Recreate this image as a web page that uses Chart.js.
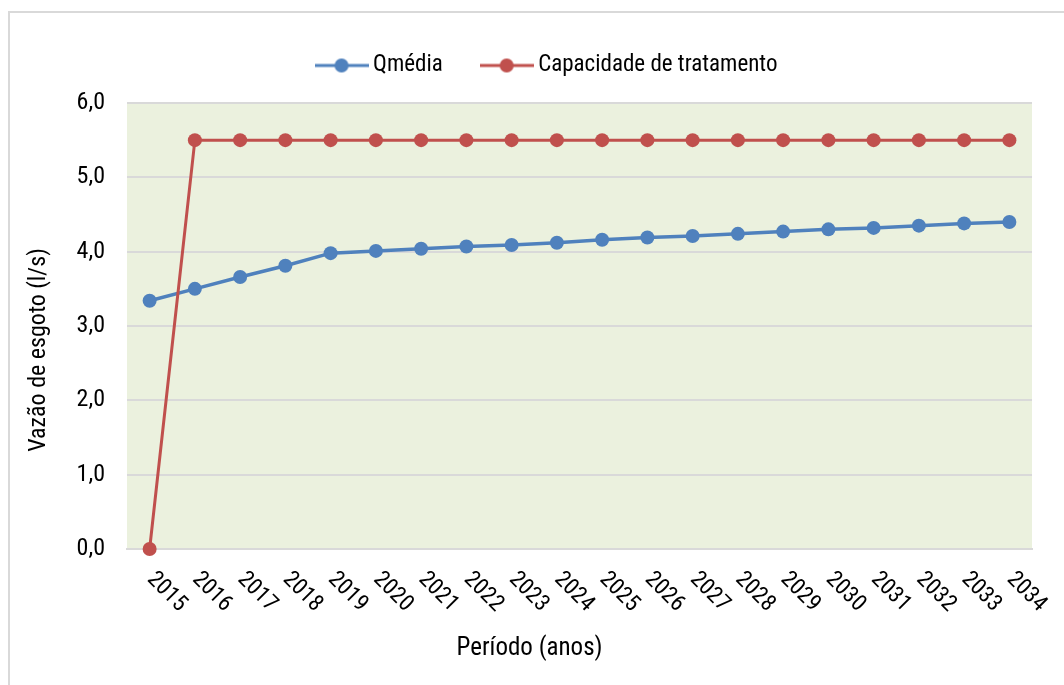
<!DOCTYPE html>
<html>
<head>
<meta charset="utf-8">
<script src="https://cdn.jsdelivr.net/npm/chart.js@4/dist/chart.umd.min.js"></script>
<style>
  html, body { margin: 0; padding: 0; background: #fff; overflow: hidden; }
  #wrap { position: relative; width: 1064px; height: 685px; }
  #frame { position: absolute; left: 8px; top: 11px; width: 1100px; height: 700px; border: 2px solid #d9d9d9; box-sizing: border-box; pointer-events: none; }
  canvas { position: absolute; left: 0; top: 0; }
</style>
</head>
<body>
<div id="wrap">
  <canvas id="grafico" width="1064" height="685"></canvas>
  <div id="frame"></div>
</div>
<script>
const anos = ['2015', '2016', '2017', '2018', '2019', '2020', '2021', '2022', '2023', '2024',
              '2025', '2026', '2027', '2028', '2029', '2030', '2031', '2032', '2033', '2034'];
const qMedia = [3.34, 3.50, 3.66, 3.81, 3.98, 4.01, 4.04, 4.07, 4.09, 4.12,
                4.16, 4.19, 4.21, 4.24, 4.27, 4.30, 4.32, 4.35, 4.38, 4.40];
const capacidade = [0.0, 5.5, 5.5, 5.5, 5.5, 5.5, 5.5, 5.5, 5.5, 5.5,
                    5.5, 5.5, 5.5, 5.5, 5.5, 5.5, 5.5, 5.5, 5.5, 5.5];
const yTicks = [0, 1, 2, 3, 4, 5, 6];
const tituloY = 'Vazão de esgoto (l/s)';

const FONTE = "'Liberation Sans Narrow', 'Arial Narrow', 'Roboto Condensed', sans-serif";
const AZUL = '#4f81bd';
const VERMELHO = '#c0504d';

function marcadorLegenda(cor) {
    const c = document.createElement('canvas');
    c.width = 54;
    c.height = 16;
    const g = c.getContext('2d');
    g.strokeStyle = cor;
    g.lineWidth = 3;
    g.beginPath();
    g.moveTo(0, 8);
    g.lineTo(54, 8);
    g.stroke();
    g.fillStyle = cor;
    g.beginPath();
    g.arc(27, 8, 7, 0, Math.PI * 2);
    g.fill();
    return c;
}

// fundo verde só na área do gráfico
const fundoArea = {
    id: 'fundoArea',
    afterLayout(chart) {
        // legenda um pouco à direita, como no original
        chart.legend.left += 20;
        chart.legend.right += 20;
    },
    beforeDraw(chart) {
        const a = chart.chartArea;
        const ctx = chart.ctx;
        ctx.save();
        ctx.fillStyle = '#ebf1de';
        ctx.fillRect(a.left, a.top, a.right - a.left, a.bottom - a.top);
        ctx.restore();
    }
};

// rótulos dos anos inclinados para baixo (45° no sentido horário) e título do eixo y
const rotulosAnos = {
    id: 'rotulosAnos',
    afterDraw(chart) {
        const x = chart.scales.x;
        const y = chart.scales.y;
        const ctx = chart.ctx;
        ctx.save();
        ctx.font = '23px ' + FONTE;
        ctx.fillStyle = '#000';
        ctx.textAlign = 'left';
        ctx.textBaseline = 'middle';
        anos.forEach((ano, i) => {
            const px = x.getPixelForValue(i);
            ctx.save();
            ctx.translate(px + 1, x.top + 27);
            ctx.rotate(Math.PI / 4);
            ctx.fillText(ano, 0, 0);
            ctx.restore();
        });

        ctx.font = '24px ' + FONTE;
        ctx.textAlign = 'center';
        ctx.translate(39, (y.top + y.bottom) / 2 + 24);
        ctx.rotate(-Math.PI / 2);
        ctx.fillText(tituloY, 0, 0);
        ctx.restore();
    }
};

new Chart(document.getElementById('grafico').getContext('2d'), {
    type: 'line',
    data: {
        labels: anos,
        datasets: [{
            label: 'Qmédia',
            data: qMedia,
            borderColor: AZUL,
            backgroundColor: AZUL,
            borderWidth: 3.5,
            pointRadius: 7,
            pointHoverRadius: 7,
            pointBorderWidth: 0,
            tension: 0,
            order: 1,
            clip: false,
        }, {
            label: 'Capacidade de tratamento',
            data: capacidade,
            borderColor: VERMELHO,
            backgroundColor: VERMELHO,
            borderWidth: 3,
            pointRadius: 7,
            pointHoverRadius: 7,
            pointBorderWidth: 0,
            tension: 0,
            order: 0,
            clip: false,
        }],
    },
    options: {
        responsive: false,
        animation: false,
        layout: {
            padding: { top: 10, left: 27, right: 32, bottom: 0 },
        },
        scales: {
            x: {
                offset: true,
                grid: { display: false, drawTicks: false },
                border: { display: true, color: '#d9d9d9', width: 2 },
                ticks: { display: false },
                afterFit(scale) { scale.height = 85; },
            },
            y: {
                min: 0,
                max: 6,
                afterBuildTicks(scale) { scale.ticks = yTicks.map(v => ({ value: v })); },
                grid: { color: '#d9d9d9', lineWidth: 2, drawTicks: false },
                border: { display: false },
                ticks: {
                    padding: 22,
                    color: '#000',
                    font: { family: FONTE, size: 24 },
                    callback: (v) => v.toFixed(1).replace('.', ','),
                },
                afterFit(scale) { scale.width = 100; },
            },
        },
        plugins: {
            legend: {
                position: 'top',
                labels: {
                    usePointStyle: true,
                    pointStyleWidth: 40,
                    padding: 44,
                    color: '#000',
                    font: { family: FONTE, size: 23 },
                    generateLabels: () => [
                        { text: 'Qmédia', pointStyle: marcadorLegenda(AZUL), fillStyle: AZUL, strokeStyle: AZUL, lineWidth: 0, datasetIndex: 0 },
                        { text: 'Capacidade de tratamento', pointStyle: marcadorLegenda(VERMELHO), fillStyle: VERMELHO, strokeStyle: VERMELHO, lineWidth: 0, datasetIndex: 1 },
                    ],
                },
            },
            // espaço entre a legenda e a área do gráfico
            subtitle: {
                display: true,
                position: 'top',
                weight: 500,
                text: ' ',
                font: { size: 10 },
                padding: { top: 4, bottom: 0 },
            },
            title: {
                display: true,
                position: 'bottom',
                text: 'Período (anos)',
                color: '#000',
                font: { family: FONTE, size: 25, weight: 'normal' },
                padding: { top: 0, bottom: 21 },
            },
            tooltip: { enabled: false },
        },
    },
    plugins: [fundoArea, rotulosAnos],
});
</script>
</body>
</html>
